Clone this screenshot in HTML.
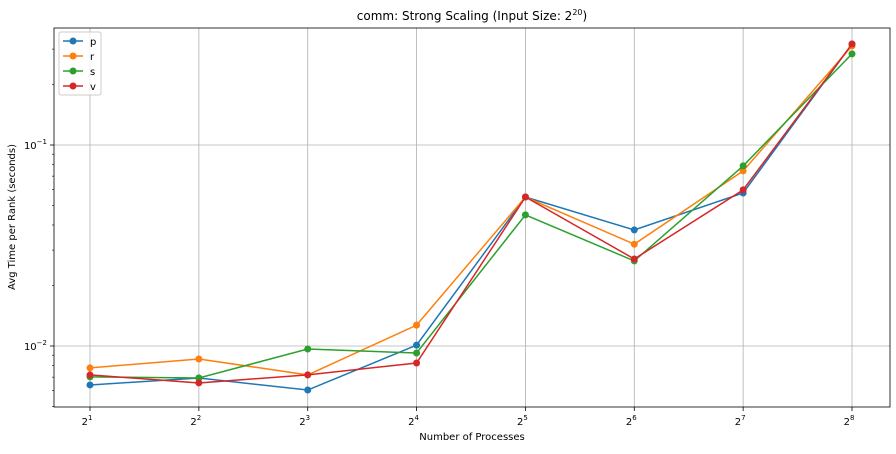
<!DOCTYPE html>
<html><head><meta charset="utf-8"><style>
body{margin:0;background:#fff;font-family:"Liberation Sans","DejaVu Sans",sans-serif}
svg text{font-family:"DejaVu Sans","Liberation Sans",sans-serif}
</style></head><body>
<svg id="c" width="896" height="449" xmlns="http://www.w3.org/2000/svg"></svg>
<script>
const categories=[1,2,3,4,5,6,7,8];
const seriesNames=["p","r","s","v"];
const pVals=[0.0064,0.00693,0.00604,0.0101,0.0551,0.0378,0.0577,0.318];
const rVals=[0.00778,0.00862,0.00718,0.0127,0.0551,0.0321,0.0743,0.311];
const sVals=[0.00702,0.00693,0.00966,0.00923,0.0449,0.0265,0.0787,0.284];
const vVals=[0.00718,0.00655,0.00718,0.00823,0.0551,0.0271,0.0598,0.318];
const yTicks=[0.01,0.1];
const yTickLabels=["10","10"];
const yTickExps=["−2","−1"];
const colors=["#1f77b4","#ff7f0e","#2ca02c","#d62728"];
const allVals=[pVals,rVals,sVals,vVals];
const NS="http://www.w3.org/2000/svg";
const svg=document.getElementById('c');
const L=54,R=890,T=28,B=407;
const x=e=>90+(e-1)*(852-90)/7;
const y=v=>145-(Math.log10(v)+1)*201;
function el(t,a,p){const e=document.createElementNS(NS,t);for(const k in a)e.setAttribute(k,a[k]);(p||svg).appendChild(e);return e;}
categories.forEach(c=>{const g=el('line',{x1:x(c),x2:x(c),y1:T,y2:B,stroke:'#b0b0b0','stroke-width':0.8});

});
yTicks.forEach(t=>{const g=el('line',{x1:L,x2:R,y1:y(t),y2:y(t),stroke:'#b0b0b0','stroke-width':0.8});

});
for(let d=-3;d<0;d++)for(let m=2;m<10;m++){const v=m*Math.pow(10,d);const yy=y(v);if(yy<T||yy>B)continue;
const t=el('line',{x1:L-2,x2:L,y1:yy,y2:yy,stroke:'#000','stroke-width':0.6});

}
allVals.forEach((vals,i)=>{
const g=el('g',{});


el('polyline',{points:vals.map((v,j)=>x(categories[j])+','+y(v)).join(' '),fill:'none',stroke:colors[i],'stroke-width':1.5},g);
vals.forEach((v,j)=>{const c=el('circle',{cx:x(categories[j]),cy:y(v),r:3.5,fill:colors[i]},g);

});
});
const f=el('rect',{x:L,y:T,width:R-L,height:B-T,fill:'none',stroke:'#000','stroke-width':0.8});


categories.forEach(c=>{el('line',{x1:x(c),x2:x(c),y1:B,y2:B+4,stroke:'#000','stroke-width':0.8});
const t=el('text',{x:x(c)-3,y:B+18,'font-size':10,'text-anchor':'middle'});


t.textContent='2';
const s=el('tspan',{dy:-5,'font-size':7});s.textContent=String(c);t.appendChild(s);});
yTicks.forEach((tv,i)=>{el('line',{x1:L-4,x2:L,y1:y(tv),y2:y(tv),stroke:'#000','stroke-width':0.8});
const t=el('text',{x:L-7,y:y(tv)+4,'font-size':10,'text-anchor':'end'});


t.textContent=yTickLabels[i];
const s=el('tspan',{dy:-5,'font-size':7});s.textContent=yTickExps[i];t.appendChild(s);});
let t=el('text',{x:472,y:20,'font-size':12,'text-anchor':'middle'});


t.textContent='comm: Strong Scaling (Input Size: 2';
let s=el('tspan',{dy:-5,'font-size':8});s.textContent='20';t.appendChild(s);
s=el('tspan',{dy:5});s.textContent=')';t.appendChild(s);
t=el('text',{x:472,y:440,'font-size':10,'text-anchor':'middle'});


t.textContent='Number of Processes';
t=el('text',{x:15,y:217,'font-size':10,'text-anchor':'middle',transform:'rotate(-90 15 217)'});


t.textContent='Avg Time per Rank (seconds)';
const lg=el('g',{});


el('rect',{x:59,y:32,width:42,height:63,rx:2,fill:'#fff','fill-opacity':0.8,stroke:'#ccc'},lg);
seriesNames.forEach((n,i)=>{const yy=41+i*15;
const e=el('g',{},lg);


el('line',{x1:63,x2:83,y1:yy,y2:yy,stroke:colors[i],'stroke-width':1.5},e);
el('circle',{cx:73,cy:yy,r:3.5,fill:colors[i]},e);
const tt=el('text',{x:90,y:yy+4,'font-size':10},e);tt.textContent=n;});
</script>
</body></html>
